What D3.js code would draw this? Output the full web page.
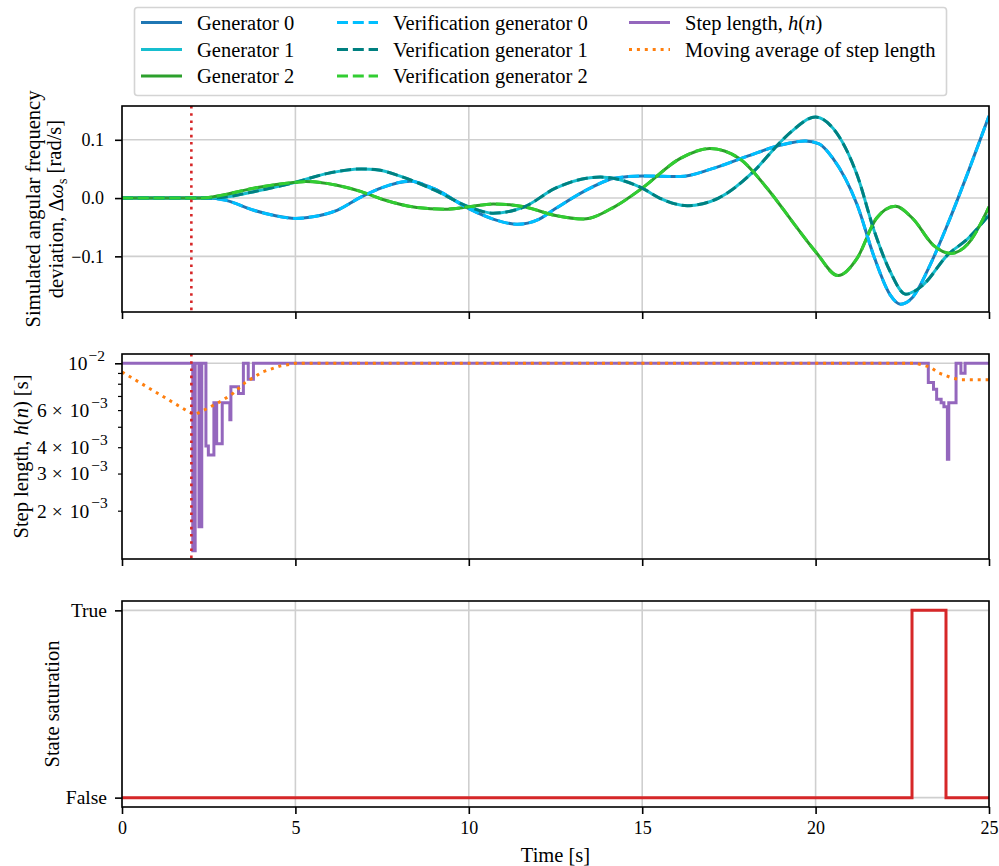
<!DOCTYPE html>
<html>
<head>
<meta charset="utf-8">
<script src="https://cdn.jsdelivr.net/npm/d3@7"></script>
<style>
  body { margin: 0; background: #fff; }
  text { font-family: "Liberation Serif", "Times New Roman", serif; fill: #000; }
</style>
</head>
<body>
<div id="chart-area"></div>
<script>
// Values, [time (s), value]
const gen0 = [[0,0],[2,0],[2.5,0],[3,-0.004],[3.8,-0.021],[4.4,-0.030],[5,-0.035],[5.5,-0.032],[6.2,-0.021],[6.9,0.002],[7.5,0.018],[8.3,0.029],[9,0.016],[10,-0.018],[10.7,-0.036],[11.4,-0.045],[12,-0.037],[12.5,-0.018],[13.5,0.017],[14.2,0.034],[15,0.038],[16.1,0.037],[17,0.050],[18,0.071],[19,0.091],[19.7,0.098],[20.1,0.093],[20.5,0.068],[21.2,-0.012],[21.7,-0.103],[22.15,-0.166],[22.45,-0.182],[22.8,-0.170],[23.3,-0.115],[23.8,-0.046],[24.4,0.045],[25,0.141]];
const gen1 = [[0,0],[2.5,0],[3,0.002],[3.8,0.011],[5,0.027],[5.9,0.042],[6.9,0.050],[7.4,0.048],[8,0.038],[9,0.014],[10,-0.015],[10.7,-0.026],[11.6,-0.015],[12.5,0.017],[13.5,0.035],[13.8,0.036],[15,0.017],[15.5,0.0],[16.3,-0.013],[17.2,0.0],[18.2,0.045],[19,0.097],[19.3,0.114],[20,0.139],[20.5,0.120],[21.2,0.039],[21.7,-0.058],[22.15,-0.126],[22.6,-0.165],[23.1,-0.149],[23.8,-0.098],[24.4,-0.069],[25,-0.029]];
const gen2 = [[0,0],[2.3,0],[2.8,0.004],[3.8,0.017],[5,0.027],[5.3,0.0285],[6.2,0.022],[6.9,0.011],[7.5,-0.002],[8.5,-0.016],[9.3,-0.019],[10,-0.015],[10.7,-0.010],[11.6,-0.015],[12.5,-0.030],[13.3,-0.036],[14.2,-0.015],[15,0.017],[16.1,0.068],[16.95,0.085],[17.8,0.068],[18.6,0.017],[19.4,-0.046],[20,-0.092],[20.65,-0.133],[21.2,-0.103],[21.75,-0.035],[22.3,-0.014],[22.8,-0.035],[23.4,-0.081],[23.9,-0.095],[24.4,-0.078],[25,-0.015]];
// verification runs overlap the generators exactly
const ver0 = gen0, ver1 = gen1, ver2 = gen2;

const stepLength = [[0,1e-2],[2.04,1.29e-3],[2.11,1e-2],[2.22,1.68e-3],[2.30,1e-2],[2.42,4.05e-3],[2.49,3.67e-3],[2.65,6.5e-3],[2.73,4.15e-3],[2.89,6.5e-3],[3.11,5.4e-3],[3.14,7.75e-3],[3.36,7.2e-3],[3.50,1e-2],[3.64,8.4e-3],[3.79,1e-2],[23.25,8.1e-3],[23.40,7.53e-3],[23.49,6.75e-3],[23.62,6.5e-3],[23.70,6.22e-3],[23.80,3.51e-3],[23.84,6.5e-3],[24.05,1e-2],[24.19,8.97e-3],[24.31,1e-2],[25,1e-2]];
const movingAvg = [[0,9.1e-3],[1.95,5.85e-3],[2.1,5.7e-3],[2.45,6.1e-3],[2.85,6.6e-3],[3.2,7.2e-3],[3.55,8.1e-3],[4.05,9.1e-3],[4.55,9.7e-3],[5.0,1e-2],[22.9,1e-2],[23.3,9.6e-3],[23.55,9.0e-3],[23.95,8.5e-3],[24.2,8.35e-3],[25,8.35e-3]];
const saturation = [[0,0],[22.78,1],[23.76,0],[25,0]];
const eventTime = 2;

const timeTicks = [0, 5, 10, 15, 20, 25];
const freqTicks = [-0.1, 0.0, 0.1];
const stepMajor = [1e-2];
const stepMinor = [2e-3, 3e-3, 4e-3, 5e-3, 6e-3, 7e-3, 8e-3, 9e-3];
const stepLabelled = [[2e-3, "2"], [3e-3, "3"], [4e-3, "4"], [6e-3, "6"]];
const satTicks = [0, 1];
const satLabels = ["False", "True"];

const W = 999, H = 866;
const left = 122, right = 989;
const p1 = { top: 106, bottom: 312 },
      p2 = { top: 354, bottom: 559 },
      p3 = { top: 601, bottom: 807 };
const tickFont = 18;

const svg = d3.select("#chart-area").append("svg")
    .attr("width", W)
    .attr("height", H);

// Scales
const x = d3.scaleLinear().domain([0, 25]).range([left, right]);
const y1 = d3.scaleLinear().domain([-0.1955, 0.158]).range([p1.bottom, p1.top]);
const y2 = d3.scaleLog().domain([1.18e-3, 1.107e-2]).range([p2.bottom, p2.top]);
const y3 = d3.scaleLinear().domain([-0.05, 1.05]).range([p3.bottom, p3.top]);

const gridColor = "#cfcfcf";

function clip(id, p) {
    svg.append("clipPath").attr("id", id)
        .append("rect")
        .attr("x", left).attr("y", p.top)
        .attr("width", right - left).attr("height", p.bottom - p.top);
}
clip("c1", p1); clip("c2", p2); clip("c3", p3);

function vGrid(p) {
    svg.append("g").selectAll("line").data(timeTicks).join("line")
        .attr("x1", d => x(d)).attr("x2", d => x(d))
        .attr("y1", p.top).attr("y2", p.bottom)
        .attr("stroke", gridColor).attr("stroke-width", 1.6);
}
function hGrid(vals, y) {
    svg.append("g").selectAll("line").data(vals).join("line")
        .attr("x1", left).attr("x2", right)
        .attr("y1", d => y(d)).attr("y2", d => y(d))
        .attr("stroke", gridColor).attr("stroke-width", 1.6);
}
function frame(p) {
    svg.append("rect")
        .attr("x", left).attr("y", p.top)
        .attr("width", right - left).attr("height", p.bottom - p.top)
        .attr("fill", "none").attr("stroke", "#000").attr("stroke-width", 1.6);
}
function styleAxis(g, size) {
    g.attr("font-family", null).attr("font-size", null);
    g.select(".domain").remove();
    g.selectAll("line").attr("stroke-width", 1.6);
    g.selectAll("text")
        .style("font-family", "'Liberation Serif', serif")
        .style("font-size", size + "px");
}
function xAxis(p, labelled) {
    const call = d3.axisBottom(x).tickValues(timeTicks).tickSize(7).tickPadding(7)
        .tickFormat(labelled ? d3.format("d") : "");
    const g = svg.append("g")
        .attr("transform", "translate(0," + p.bottom + ")")
        .call(call);
    styleAxis(g, tickFont);
}
function drawLine(data, y, clipId, color, width, dash, curve) {
    const line = d3.line()
        .x(d => x(d[0]))
        .y(d => y(d[1]))
        .curve(curve || d3.curveLinear);
    svg.append("path")
        .attr("clip-path", "url(#" + clipId + ")")
        .attr("d", line(data))
        .attr("fill", "none")
        .attr("stroke", color)
        .attr("stroke-width", width)
        .attr("stroke-dasharray", dash || null);
}
function eventLine(p) {
    svg.append("line")
        .attr("x1", x(eventTime)).attr("x2", x(eventTime))
        .attr("y1", p.top).attr("y2", p.bottom)
        .attr("stroke", "#d62728").attr("stroke-width", 2.6)
        .attr("stroke-dasharray", "2.6,4.6");
}
function yLabel(xpos, ycen, build) {
    const t = svg.append("text")
        .attr("transform", "translate(" + xpos + "," + ycen + ") rotate(-90)")
        .attr("text-anchor", "middle")
        .attr("dy", "0.35em")
        .attr("font-size", 20.5);
    build(t);
}

/******************************** Panel 1 ********************************/
vGrid(p1);
hGrid(freqTicks, y1);
const smooth = d3.curveMonotoneX;
drawLine(gen0, y1, "c1", "#1f77b4", 3, null, smooth);
drawLine(gen1, y1, "c1", "#17becf", 3, null, smooth);
drawLine(gen2, y1, "c1", "#2ca02c", 3, null, smooth);
drawLine(ver0, y1, "c1", "deepskyblue", 3, "11,4.8", smooth);
drawLine(ver1, y1, "c1", "teal", 3, "11,4.8", smooth);
drawLine(ver2, y1, "c1", "limegreen", 3, "11,4.8", smooth);
eventLine(p1);
frame(p1);
xAxis(p1, false);

const yAx1 = svg.append("g").attr("transform", "translate(" + left + ",0)")
    .call(d3.axisLeft(y1).tickValues(freqTicks).tickSize(7).tickPadding(11)
        .tickFormat(d => (d < 0 ? "\u2212" : "") + Math.abs(d).toFixed(1)));
styleAxis(yAx1, tickFont);

yLabel(33, (p1.top + p1.bottom) / 2, t => t.text("Simulated angular frequency"));
yLabel(56, (p1.top + p1.bottom) / 2, t => {
    t.append("tspan").text("deviation, \u0394");
    t.append("tspan").attr("font-style", "italic").text("\u03c9");
    t.append("tspan").attr("font-size", 14).attr("dy", "0.3em").text("s");
    t.append("tspan").attr("dy", "-0.3em").text(" [rad/s]");
});

/******************************** Panel 2 ********************************/
vGrid(p2);
hGrid(stepMajor, y2);
drawLine(stepLength, y2, "c2", "#9467bd", 3, null, d3.curveStepAfter);
drawLine(movingAvg, y2, "c2", "#ff7f0e", 3, "3,4.9");
eventLine(p2);
frame(p2);
xAxis(p2, false);

const yMaj2 = svg.append("g").attr("transform", "translate(" + left + ",0)")
    .call(d3.axisLeft(y2).tickValues(stepMajor).tickSize(7).tickFormat(""));
const yMin2 = svg.append("g").attr("transform", "translate(" + left + ",0)")
    .call(d3.axisLeft(y2).tickValues(stepMinor).tickSize(4).tickFormat(""));
styleAxis(yMaj2, tickFont);
styleAxis(yMin2, tickFont);
yMin2.selectAll("line").attr("stroke-width", 1.2);

// log tick labels, 10^k with superscript exponent (laid out from the left)
const lab10 = svg.append("text")
    .attr("x", 68).attr("y", y2(1e-2)).attr("dy", "0.35em")
    .attr("font-size", 19.5);
lab10.append("tspan").text("10");
lab10.append("tspan").attr("dx", 1).attr("font-size", 15.5).attr("dy", "-0.6em").text("\u22122");

stepLabelled.forEach(d => {
    const t = svg.append("text")
        .attr("x", 37).attr("y", y2(d[0])).attr("dy", "0.35em")
        .attr("font-size", 19.5);
    t.append("tspan").text(d[1]);
    t.append("tspan").attr("dx", 5).text("\u00d7");
    t.append("tspan").attr("dx", 7).text("10");
    t.append("tspan").attr("dx", 2).attr("font-size", 15.5).attr("dy", "-0.6em").text("\u22123");
});

yLabel(21, (p2.top + p2.bottom) / 2, t => {
    t.append("tspan").text("Step length, ");
    t.append("tspan").attr("font-style", "italic").text("h");
    t.append("tspan").text("(");
    t.append("tspan").attr("font-style", "italic").text("n");
    t.append("tspan").text(") [s]");
});

/******************************** Panel 3 ********************************/
vGrid(p3);
hGrid(satTicks, y3);
drawLine(saturation, y3, "c3", "#d62728", 3, null, d3.curveStepAfter);
frame(p3);
xAxis(p3, true);

const yAx3 = svg.append("g").attr("transform", "translate(" + left + ",0)")
    .call(d3.axisLeft(y3).tickValues(satTicks).tickSize(7).tickPadding(8)
        .tickFormat((d, i) => satLabels[i]));
styleAxis(yAx3, 19.5);

yLabel(52, (p3.top + p3.bottom) / 2, t => t.text("State saturation"));

svg.append("text")
    .attr("x", (left + right) / 2).attr("y", 855).attr("dy", "0.35em")
    .attr("text-anchor", "middle").attr("font-size", 20.5)
    .text("Time [s]");

/******************************** Legend ********************************/
const legend = svg.append("g");
legend.append("rect")
    .attr("x", 134.5).attr("y", 7.5).attr("width", 812).attr("height", 88)
    .attr("rx", 3).attr("fill", "#fff").attr("fill-opacity", 0.8)
    .attr("stroke", "#d4d4d4").attr("stroke-width", 1.6);

const legendItems = [
    { col: 0, row: 0, color: "#1f77b4", dash: null, label: ["Generator 0"] },
    { col: 0, row: 1, color: "#17becf", dash: null, label: ["Generator 1"] },
    { col: 0, row: 2, color: "#2ca02c", dash: null, label: ["Generator 2"] },
    { col: 1, row: 0, color: "deepskyblue", dash: "11,4.8", label: ["Verification generator 0"] },
    { col: 1, row: 1, color: "teal", dash: "11,4.8", label: ["Verification generator 1"] },
    { col: 1, row: 2, color: "limegreen", dash: "11,4.8", label: ["Verification generator 2"] },
    { col: 2, row: 0, color: "#9467bd", dash: null, label: ["Step length, ", "h", "(", "n", ")"] },
    { col: 2, row: 1, color: "#ff7f0e", dash: "3,4.9", label: ["Moving average of step length"] }
];
const colX = [141, 337, 629];
const rowY = [22.5, 49.5, 76];

legendItems.forEach(d => {
    const lx = colX[d.col], ly = rowY[d.row];
    legend.append("line")
        .attr("x1", lx).attr("x2", lx + 41)
        .attr("y1", ly).attr("y2", ly)
        .attr("stroke", d.color).attr("stroke-width", 3)
        .attr("stroke-dasharray", d.dash);
    const t = legend.append("text")
        .attr("x", lx + 56).attr("y", ly).attr("dy", "0.35em")
        .attr("font-size", 20.5);
    d.label.forEach(s => {
        t.append("tspan").attr("font-style", (s === "h" || s === "n") ? "italic" : null).text(s);
    });
});
</script>
</body>
</html>
